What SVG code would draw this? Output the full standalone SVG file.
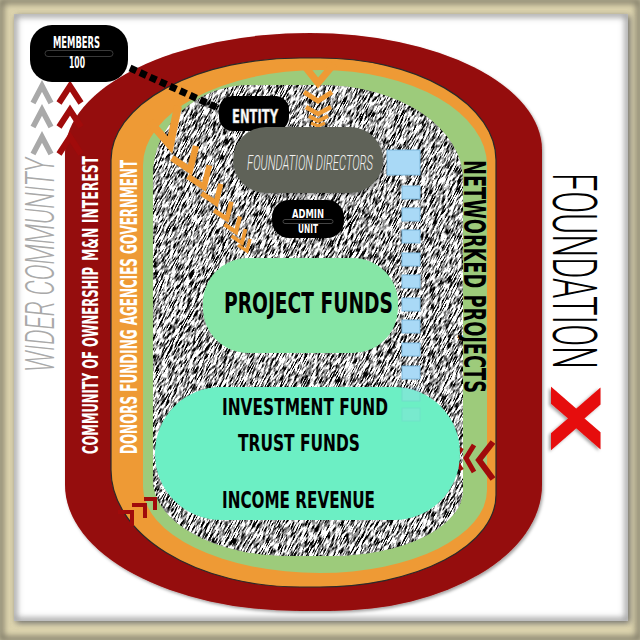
<svg xmlns="http://www.w3.org/2000/svg" width="640" height="640" viewBox="0 0 640 640">
<style>
.cb{font-family:"Liberation Sans Narrow","DejaVu Sans Condensed","Liberation Sans",sans-serif;font-weight:bold}
.lt{font-family:Roboto,"Open Sans","Liberation Sans",sans-serif;font-weight:300}
.w{fill:#ffffff}
.k{fill:#000000}
.och{fill:none;stroke:#ee9a35;stroke-linejoin:miter;stroke-miterlimit:10}
.rch{fill:none;stroke:#a00b0b;stroke-linejoin:miter;stroke-miterlimit:10}
.gch{fill:none;stroke:#a9a9a9;stroke-linejoin:miter;stroke-miterlimit:10}
.sq{fill:#a9d9f6;stroke:#7db6da;stroke-width:1}
</style>
<defs>
<filter id="noise" x="0" y="0" width="1" height="1" color-interpolation-filters="sRGB">
<feTurbulence type="fractalNoise" baseFrequency="0.12 0.95" numOctaves="3" seed="7"/>
<feColorMatrix type="matrix" values="5 0 0 0 -1.85  5 0 0 0 -1.85  5 0 0 0 -1.85  0 0 0 0 1"/>
</filter>
<filter id="blur" x="-5%" y="-5%" width="110%" height="110%"><feGaussianBlur stdDeviation="3"/></filter>
<filter id="sh" x="-10%" y="-10%" width="120%" height="120%"><feDropShadow dx="1.5" dy="2" stdDeviation="1.5" flood-color="#000" flood-opacity="0.35"/></filter>
<clipPath id="panel"><rect x="14" y="14" width="614" height="607"/></clipPath>
<clipPath id="coreClip"><path d="M153 175A97 90 0 0 1 250 85L320 85A143 95 0 0 1 463 180L463 490A133 66 0 0 1 330 556L290 556A137 76 0 0 1 153 480Z"/></clipPath>
</defs>

<g id="frame">
<rect width="640" height="640" fill="#ded5ae"/>
<rect x="1" y="1" width="638" height="638" fill="none" stroke="#6f6c5c" stroke-width="5" filter="url(#blur)"/>
<rect x="16" y="16" width="614" height="607" fill="#6a6a6a" filter="url(#blur)"/>
<rect x="14" y="14" width="614" height="607" fill="#ffffff"/>
<rect x="14" y="14" width="614" height="607" fill="none" stroke="#9a9a9a" stroke-width="6" clip-path="url(#panel)" filter="url(#blur)"/>
</g>

<g id="rings">
<path id="band-red" d="M65 153A245 120 0 0 1 310 33A232 117 0 0 1 542 150L542 485A212 126 0 0 1 330 611L300 611A235 126 0 0 1 65 485Z" fill="#950808" filter="url(#sh)"/>
<path id="band-orange" d="M111 160A189 102 0 0 1 300 58L320 58A176 102 0 0 1 496 160L496 495A176 92 0 0 1 320 587L300 587A189 117 0 0 1 111 470Z" fill="#ee9a35" stroke="#2a2a2a" stroke-width="1.2"/>
<path id="band-green" d="M143 165A177 95 0 0 1 320 70A167 95 0 0 1 487 165L487 490A167 83 0 0 1 320 573A177 86 0 0 1 143 487Z" fill="#9dcb7b"/>
<g id="core" clip-path="url(#coreClip)">
<rect x="0" y="0" width="640" height="640" fill="#9a9a9a"/>
<rect x="-20" y="0" width="660" height="640" transform="rotate(-62 310 320)" filter="url(#noise)"/>
</g>
</g>

<g id="chevrons">
<polyline class="och" stroke-width="7" points="303,64 318,83 334,64"/>
<polyline class="och" stroke-width="5" points="304,92 318,101 332,92"/>
<polyline class="och" stroke-width="4.5" points="306,107 318,114 331,107"/>
<polyline class="och" stroke-width="4" points="309,116 318,121 328,116"/>
<polyline class="och" stroke-width="3" points="311,123 318,126 325,123"/>
<polyline class="och" stroke-width="8" points="150,122 170,145 178,106"/>
<g class="och" stroke-width="6.5">
<polyline points="-18,-12 0,0 6,-24" transform="translate(190,170)"/>
<polyline points="-18,-12 0,0 6,-24" transform="translate(204,187) scale(0.9)"/>
<polyline points="-18,-12 0,0 6,-24" transform="translate(216,203) scale(0.8)"/>
<polyline points="-18,-12 0,0 6,-24" transform="translate(227,219) scale(0.72)"/>
<polyline points="-18,-12 0,0 6,-24" transform="translate(236,232) scale(0.65)"/>
<polyline points="-18,-12 0,0 6,-24" transform="translate(242,243) scale(0.58)"/>
<polyline points="-18,-12 0,0 6,-24" transform="translate(247,251) scale(0.5)"/>
</g>
<g class="gch" stroke-width="5.5">
<polyline points="33,103 42,86 51,103"/>
<polyline points="33,127 42,110 51,127"/>
<polyline points="33,154 42,137 51,154"/>
</g>
<g class="rch" stroke-width="6">
<polyline points="59,103 70,86 81,103"/>
<polyline points="59,127 70,110 81,127"/>
<polyline points="59,154 70,137 81,154"/>
</g>
<g class="rch" stroke-width="4">
<polyline points="118,512 132,512 132,526"/>
<polyline points="132,505 145,505 145,518"/>
<polyline points="144,499 155,499 155,510"/>
</g>
<polyline class="rch" stroke-width="6" points="493,442 479,460 493,479"/>
<polyline class="rch" stroke-width="5" points="474,445 466,458 474,472"/>
<polyline class="rch" stroke-width="4" points="462,448 455,459 462,470"/>
<polyline class="rch" stroke-width="3" points="454,451 449,459 454,467"/>
<polyline class="rch" stroke-width="2.5" points="447,453 443,460 447,467"/>
</g>

<g id="connectors">
<path d="M130 68L218 108" stroke="#000" stroke-width="7" stroke-dasharray="7 4" fill="none"/>
</g>

<g id="labels">
<text class="lt" transform="translate(54,372) rotate(-90)" font-size="41" font-style="italic" fill="#a9a9a9" textLength="214" lengthAdjust="spacingAndGlyphs">WIDER COMMUNITY</text>
<text class="cb w" transform="translate(98,454) rotate(-90)" font-size="22" textLength="187" lengthAdjust="spacingAndGlyphs">COMMUNITY OF OWNERSHIP</text>
<text class="cb w" transform="translate(98,261) rotate(-90)" font-size="22" textLength="105" lengthAdjust="spacingAndGlyphs">M&amp;N INTEREST</text>
<text class="cb w" transform="translate(137,454) rotate(-90)" font-size="23" textLength="196" lengthAdjust="spacingAndGlyphs">DONORS FUNDING AGENCIES</text>
<text class="cb w" transform="translate(137,254) rotate(-90)" font-size="23" textLength="94" lengthAdjust="spacingAndGlyphs">GOVERNMENT</text>
<text class="cb k" transform="translate(464,160) rotate(90)" font-size="31" textLength="233" lengthAdjust="spacingAndGlyphs">NETWORKED PROJECTS</text>
<text class="lt k" transform="translate(553,173) rotate(90)" font-size="62" textLength="196" lengthAdjust="spacingAndGlyphs">FOUNDATION</text>
<text class="cb" transform="translate(551,385) rotate(90)" font-size="68" fill="#e60a0a" textLength="67" lengthAdjust="spacingAndGlyphs" filter="url(#sh)">X</text>
</g>

<g id="members">
<rect x="30" y="25" width="98" height="57" rx="22" fill="#000"/>
<text class="cb w" x="53" y="48" font-size="16.5" textLength="47" lengthAdjust="spacingAndGlyphs">MEMBERS</text>
<rect x="45" y="50.5" width="68" height="6" rx="3" fill="none" stroke="#3a3a3a" stroke-width="1"/>
<text class="cb w" x="69" y="68" font-size="15" textLength="16" lengthAdjust="spacingAndGlyphs">100</text>
</g>

<g id="entity">
<rect x="219" y="96" width="70" height="35" rx="14" fill="#000"/>
<text class="cb w" x="232" y="123" font-size="20" textLength="46" lengthAdjust="spacingAndGlyphs" stroke="#bbbbbb" stroke-width="0.6">ENTITY</text>
</g>

<g id="foundation-directors">
<rect x="233" y="127" width="150" height="66" rx="33" fill="#5e6259" filter="url(#sh)"/>
<text class="lt" x="247" y="170" font-size="21" font-style="italic" fill="#f2f2f2" textLength="126" lengthAdjust="spacingAndGlyphs">FOUNDATION DIRECTORS</text>
</g>

<g id="admin-unit">
<rect x="272" y="200" width="72" height="38" rx="17" fill="#000"/>
<text class="cb w" x="292" y="218" font-size="12.5" textLength="32" lengthAdjust="spacingAndGlyphs">ADMIN</text>
<rect x="283" y="219.5" width="50" height="4" rx="2" fill="none" stroke="#444" stroke-width="1"/>
<text class="cb w" x="298" y="233" font-size="12.5" textLength="20" lengthAdjust="spacingAndGlyphs">UNIT</text>
</g>

<g id="project-funds">
<rect x="203" y="258" width="195" height="95" rx="45" fill="#86e6a6"/>
<text class="cb k" x="224" y="313" font-size="29" textLength="169" lengthAdjust="spacingAndGlyphs">PROJECT FUNDS</text>
</g>

<g id="investment">
<rect x="155" y="387" width="305" height="133" rx="66" fill="#6cefc4"/>
<text class="cb k" x="222" y="415" font-size="23" textLength="166" lengthAdjust="spacingAndGlyphs">INVESTMENT FUND</text>
<text class="cb k" x="238" y="451" font-size="23" textLength="122" lengthAdjust="spacingAndGlyphs">TRUST FUNDS</text>
<text class="cb k" x="222" y="508" font-size="23" textLength="153" lengthAdjust="spacingAndGlyphs">INCOME REVENUE</text>
</g>

<g id="project-links">
<rect class="sq" x="387" y="150" width="33" height="25"/>
<rect class="sq" x="402" y="186" width="18" height="13"/>
<rect class="sq" x="402" y="208" width="18" height="13"/>
<rect class="sq" x="402" y="230" width="18" height="13"/>
<rect class="sq" x="402" y="253" width="18" height="13"/>
<rect class="sq" x="402" y="275" width="18" height="13"/>
<rect class="sq" x="402" y="298" width="18" height="13"/>
<rect class="sq" x="402" y="320" width="18" height="13"/>
<rect class="sq" x="402" y="343" width="18" height="13"/>
<rect class="sq" x="402" y="366" width="18" height="13"/>
<rect class="sq" x="402" y="388" width="18" height="13" opacity="0.3"/>
<rect class="sq" x="402" y="408" width="18" height="13" opacity="0.2"/>
</g>
</svg>
